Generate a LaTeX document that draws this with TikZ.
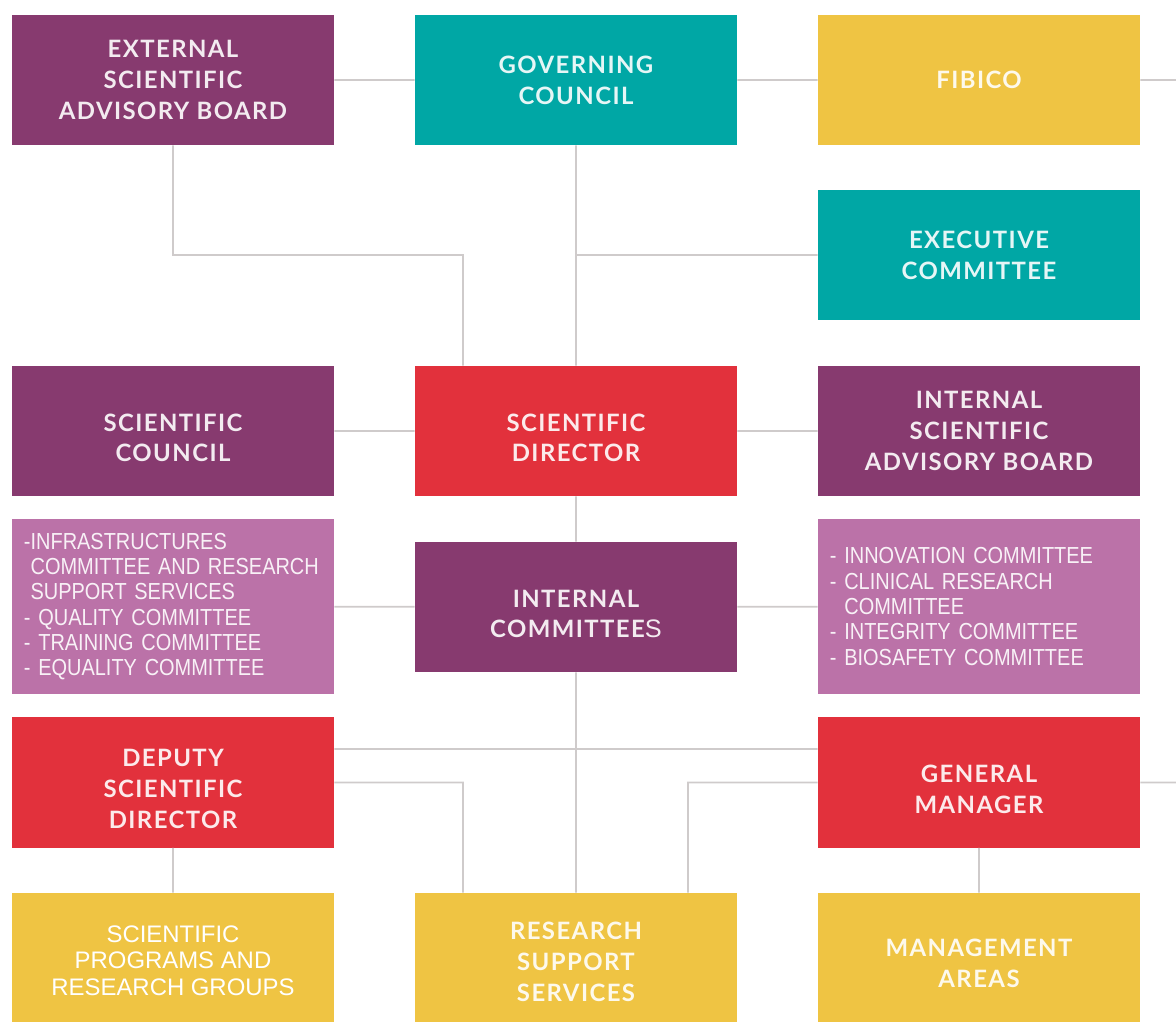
\documentclass[tikz,border=0pt]{standalone}
\usepackage{fontspec}
\setmainfont{Liberation Sans}
\newfontfamily\headfont[LetterSpace=6]{Lato}
\newfontfamily\listfont[FakeStretch=0.86]{Liberation Sans}
\usetikzlibrary{positioning}
\definecolor{plum}{HTML}{873A6F}
\definecolor{orchid}{HTML}{BB72A8}
\definecolor{teal}{HTML}{00A7A5}
\definecolor{mustard}{HTML}{EFC443}
\definecolor{scarlet}{HTML}{E2313C}
\definecolor{wire}{HTML}{CFCBCB}
% taller first line, pushes the text of a box down
\newcommand{\textdrop}[1]{\rule{0pt}{#1}}
\tikzstyle{box}=[minimum width=8.05cm,minimum height=3.25cm,inner sep=0pt,align=center,
  text=white,text opacity=0.9,font=\headfont\bfseries\fontsize{17}{22}\selectfont]
\tikzstyle{listbox}=[box,fill=orchid,minimum height=4.375cm,text width=7.45cm,align=left,
  font=\listfont\fontsize{16.5}{18}\selectfont]
\tikzstyle{link}=[draw=wire,line width=1.2pt]

\begin{document}
\begin{tikzpicture}[x=0.025cm,y=-0.025cm]
\useasboundingbox (0,0) rectangle (1176,1021);

% top row
\node[box,fill=plum]    (esab) at (173,80)  {EXTERNAL\\SCIENTIFIC\\ADVISORY BOARD};
\node[box,fill=teal]    (gov)  at (576,80)  {GOVERNING\\COUNCIL};
\node[box,fill=mustard] (fib)  at (979,80)  {FIBICO};
\node[box,fill=teal]    (exec) at (979,255) {EXECUTIVE\\COMMITTEE};

% direction
\node[box,fill=plum]    (scc)  at (173,431) {\textdrop{0.78cm}SCIENTIFIC\\COUNCIL};
\node[box,fill=scarlet] (dir)  at (576,431) {\textdrop{0.78cm}SCIENTIFIC\\DIRECTOR};
\node[box,fill=plum]    (isab) at (979,431) {INTERNAL\\SCIENTIFIC\\ADVISORY BOARD};

% committees
\node[listbox] (lcom) at (173,606.5) {-INFRASTRUCTURES\\
  \phantom{-}COMMITTEE AND RESEARCH\\
  \phantom{-}SUPPORT SERVICES\\
  - QUALITY COMMITTEE\\
  - TRAINING COMMITTEE\\
  - EQUALITY COMMITTEE};
\node[box,fill=plum] (icom) at (576,607) {\textdrop{0.78cm}INTERNAL\\COMMITTEE{\normalfont\fontsize{18}{22}\selectfont S}};
\node[listbox] (rcom) at (979,606.5) {- INNOVATION COMMITTEE\\
  - CLINICAL RESEARCH\\
  \phantom{- }COMMITTEE\\
  - INTEGRITY COMMITTEE\\
  - BIOSAFETY COMMITTEE};

% management
\node[box,fill=scarlet] (dep) at (173,782.5) {\textdrop{0.75cm}DEPUTY\\SCIENTIFIC\\DIRECTOR};
\node[box,fill=scarlet] (gm)  at (979,782.5) {\textdrop{0.78cm}GENERAL\\MANAGER};

% bottom row
\node[box,fill=mustard,font=\normalfont\fontsize{17}{19}\selectfont,text opacity=1] (prog) at (173,958)
  {\textdrop{0.55cm}SCIENTIFIC\\PROGRAMS AND\\RESEARCH GROUPS};
\node[box,fill=mustard] (rss) at (576,958) {\textdrop{0.63cm}RESEARCH\\SUPPORT\\SERVICES};
\node[box,fill=mustard] (mgmt) at (979,958) {\textdrop{0.72cm}MANAGEMENT\\AREAS};

\coordinate (fibout) at (1176,80);
\coordinate (gmout)  at (1176,782.5);
\coordinate (j1) at (463,255);
\coordinate (j2) at (463,782.5);
\coordinate (j3) at (688,782.5);

\path[link]
  (esab) -- (gov)
  (gov) -- (fib)
  (fib) -- (fibout)
  (esab.south) |- (j1) -- (j1 |- dir.north)
  (gov) -- (dir)
  (exec.west) -- (exec.west -| gov.south)
  (scc) -- (dir)
  (dir) -- (isab)
  (dir) -- (icom)
  (lcom) -- (icom)
  (icom) -- (rcom)
  (icom) -- (rss)
  (dep.east |- 0,749) -- (gm.west |- 0,749)
  (dep.east |- j2) -- (j2) -- (j2 |- rss.north)
  (gm.west |- j3) -- (j3) -- (j3 |- rss.north)
  (dep) -- (prog)
  (gm) -- (mgmt)
  (gm) -- (gmout);

\end{tikzpicture}
\end{document}
